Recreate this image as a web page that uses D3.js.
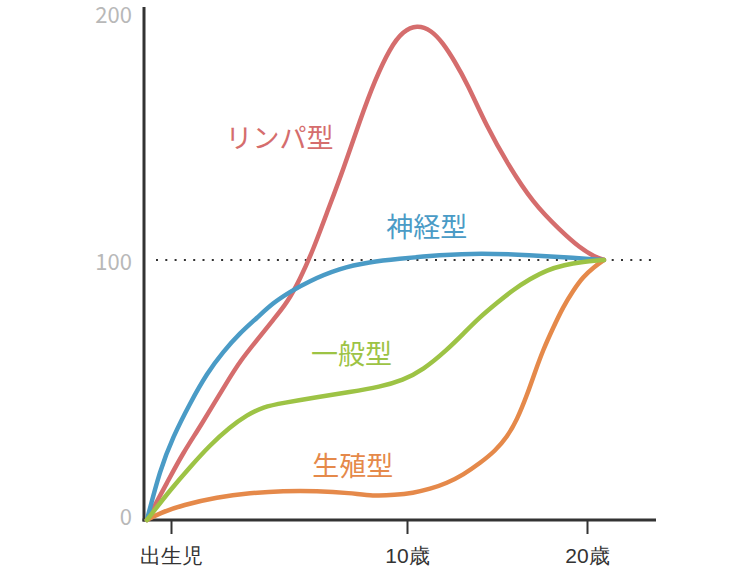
<!DOCTYPE html>
<html>
<head>
<meta charset="utf-8">
<script src="https://cdn.jsdelivr.net/npm/d3@7"></script>
<style>
  body { margin: 0; background: #fff; }
  svg { display: block; font-family: "Noto Sans CJK JP", "Noto Sans", sans-serif; }
</style>
</head>
<body>
<svg id="chart" width="750" height="575"></svg>
<script>
// Scammon growth curves (age in years, % of size at 20)
const lymphAge = [-1.02, -0.13, 0.51, 1.23, 2.42, 2.92, 3.64, 4.32, 4.92, 5.47, 6.02, 6.65, 7.29, 8.01, 8.64, 9.28, 9.83,
    10.56, 11.33, 12.0, 12.67, 13.33, 14.44, 15.56, 17.0, 18.5, 19.61, 20.44, 20.94];
const lymphVal = [0, 15, 25.8, 35.8, 53.8, 61, 69.2, 76.9, 83.5, 92.7, 103.8, 119.2, 134.6, 153.8, 169.2, 181.5, 188.1,
    190.4, 188.5, 183.5, 176.2, 168.1, 151.2, 137.3, 121.9, 111.5, 104.6, 101.2, 100];

const nerveAge = [-1.02, -0.47, 0.08, 0.81, 1.53, 2.2, 2.92, 3.64, 4.32, 5.04, 5.76, 7.16, 8.43, 9.58, 11.83, 14.06, 16.83, 19.33, 20.94];
const nerveVal = [0, 19.2, 31.9, 45, 56.5, 64.6, 71.9, 77.7, 83.5, 87.7, 91.5, 96.9, 99.2, 100.4, 101.9, 102.7, 101.9, 100.8, 100];

const generalAge = [-1.02, -0.04, 0.81, 1.65, 2.5, 3.22, 3.9, 4.75, 6.19, 7.58, 8.86, 9.83, 10.89, 12.22,
    13.11, 14.06, 15.0, 15.89, 16.83, 17.78, 18.78, 19.61, 20.94];
const generalVal = [0, 11.5, 20.4, 28.8, 35.8, 40.4, 43.5, 45, 47.3, 49.2, 51.2, 53.8, 57.7, 65.4,
    71.5, 78.1, 83.5, 88.5, 92.7, 96.2, 98.1, 99.2, 100];

const reproAge = [-1.02, -0.47, 0.51, 1.95, 3.35, 4.75, 6.19, 7.58, 8.56, 9.49, 10.33, 11.28, 12.22, 13.11,
    14.06, 14.89, 15.56, 16.11, 16.67, 17.11, 17.56, 18.11, 18.67, 19.22, 19.78, 20.39, 20.94];
const reproVal = [0, 2.7, 5.8, 8.8, 10.4, 11.2, 11.2, 10.4, 9.2, 9.6, 10.4, 11.9, 14.2, 17.3,
    21.9, 26.5, 31.9, 38.5, 48.1, 56.9, 65.4, 73.8, 81.9, 88.1, 93.5, 97.3, 100];

const seriesNames = ["リンパ型", "神経型", "一般型", "生殖型"];
const xTicks = [0, 10, 20];
const xTickLabels = ["出生児", "10歳", "20歳"];
const yTicks = [0, 100, 200];
const refValue = 100;

const colors = ["#d56d6d", "#4a9bc6", "#9dc345", "#e5894a"];

const svg = d3.select("#chart");

// ages are not evenly spaced on the original chart
const x = d3.scaleLinear().domain([0, 10, 20]).range([171, 407, 587]);
const y = d3.scaleLinear().domain([0, 200]).range([520, 0]);

const axisLeftX = 144;
const axisRightX = 656;
const axisTopY = 7;

// dotted reference line at 100
svg.append("line")
    .attr("x1", 156).attr("x2", 654)
    .attr("y1", y(refValue)).attr("y2", y(refValue))
    .attr("stroke", "#333")
    .attr("stroke-width", 2)
    .attr("stroke-dasharray", "2,7.3");

// axes
svg.append("line")
    .attr("x1", axisLeftX).attr("x2", axisLeftX)
    .attr("y1", axisTopY).attr("y2", y(0) + 1.5)
    .attr("stroke", "#333").attr("stroke-width", 3);
svg.append("line")
    .attr("x1", axisLeftX - 1.5).attr("x2", axisRightX)
    .attr("y1", y(0)).attr("y2", y(0))
    .attr("stroke", "#333").attr("stroke-width", 3);

const xAxis = d3.axisBottom(x)
    .tickValues(xTicks)
    .tickSize(14)
    .tickPadding(10)
    .tickFormat((d, i) => xTickLabels[i]);

const gx = svg.append("g")
    .attr("transform", `translate(0,${y(0)})`)
    .call(xAxis);
gx.select(".domain").remove();
gx.selectAll(".tick line").attr("stroke", "#333").attr("stroke-width", 2);
gx.selectAll(".tick text")
    .attr("fill", "#333")
    .style("font-size", "21px")
    .attr("dy", "0.9em");

// y tick labels (no tick marks on the original)
svg.selectAll("text.ylab")
    .data(yTicks)
    .enter().append("text")
    .attr("class", "ylab")
    .attr("x", 132)
    .attr("y", d => Math.min(Math.max(y(d), 13), 515))
    .attr("text-anchor", "end")
    .attr("dominant-baseline", "central")
    .attr("fill", "#b8b8b8")
    .style("font-size", "22px")
    .text(d => d);

// curves
const series = [
    { ages: lymphAge, vals: lymphVal },
    { ages: nerveAge, vals: nerveVal },
    { ages: generalAge, vals: generalVal },
    { ages: reproAge, vals: reproVal }
];

const line = d3.line()
    .x(d => x(d[0]))
    .y(d => y(d[1]))
    .curve(d3.curveBasis);

// red under the others, green on top, as in the picture
const drawOrder = [0, 1, 3, 2];
drawOrder.forEach(i => {
    const s = series[i];
    svg.append("path")
        .datum(d3.zip(s.ages, s.vals))
        .attr("d", line)
        .attr("fill", "none")
        .attr("stroke", colors[i])
        .attr("stroke-width", 4.5)
        .attr("stroke-linecap", "round")
        .attr("stroke-linejoin", "round");
});

// series labels (x in age units, y in chart values)
const labelAt = [[4.6, 143], [11.1, 109], [7.65, 60], [7.7, 17]];
svg.selectAll("text.slab")
    .data(seriesNames)
    .enter().append("text")
    .attr("class", "slab")
    .attr("x", (d, i) => x(labelAt[i][0]))
    .attr("y", (d, i) => y(labelAt[i][1]))
    .attr("text-anchor", "middle")
    .attr("fill", (d, i) => colors[i])
    .style("font-size", "27px")
    .text(d => d);
</script>
</body>
</html>
